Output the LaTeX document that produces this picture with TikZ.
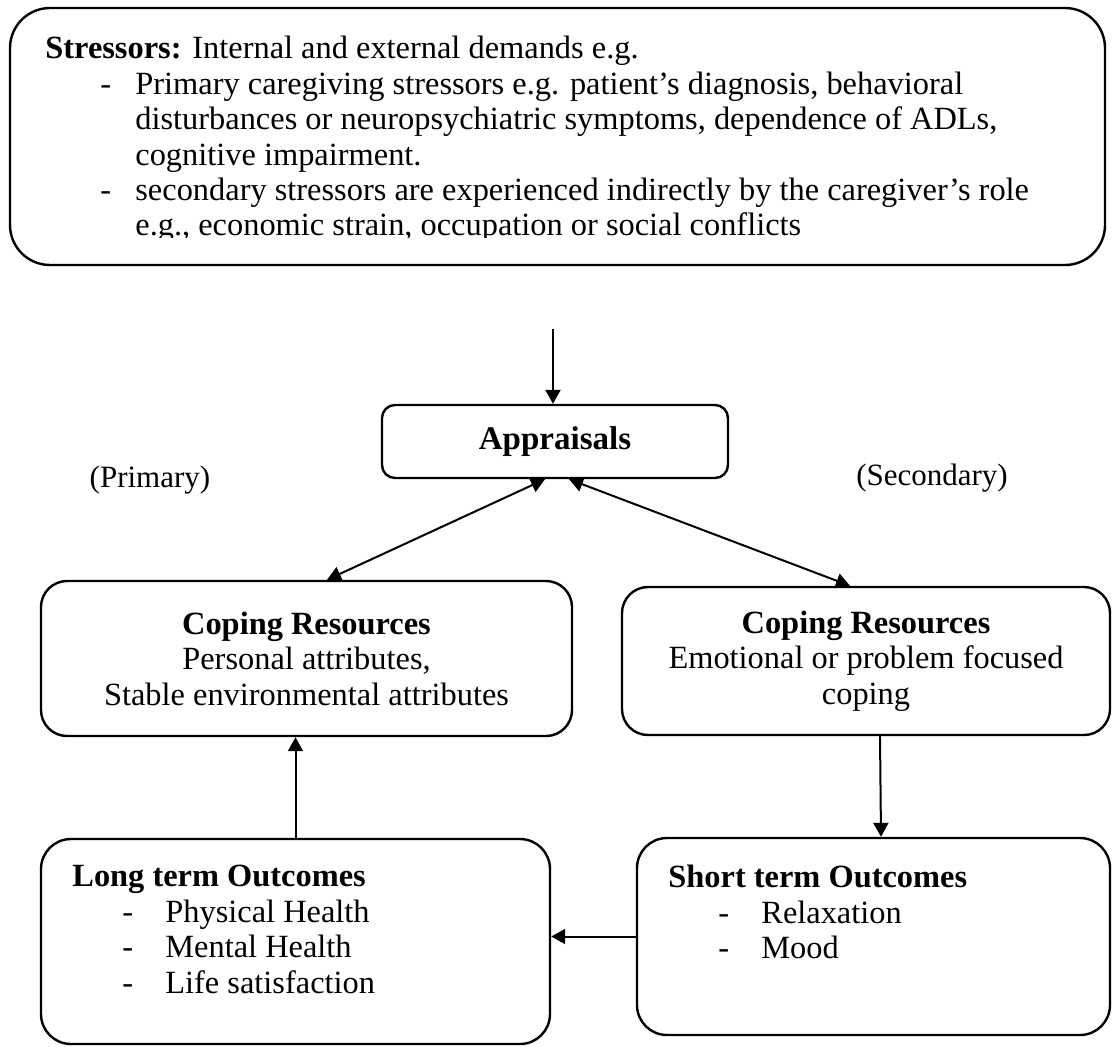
\documentclass[tikz,border=0pt]{standalone}
\usepackage{fontspec}
\setmainfont{Liberation Serif}
\usetikzlibrary{arrows.meta}
\begin{document}
\begin{tikzpicture}[x=0.5pt, y=-0.5pt, >={Triangle[length=7pt,width=7.5pt]}]
  \tikzstyle{box}=[draw, line width=1.2pt, inner sep=0pt]
  \tikzstyle{txt}=[font=\fontsize{16.2}{17.7}\selectfont]
  \tikzstyle{list}=[txt, anchor=north west, align=left, inner sep=0pt]
  \tikzstyle{link}=[line width=1pt]

  \useasboundingbox (0,0) rectangle (1113,1046);

  \node[box, rounded corners=20pt, minimum width=547.5pt, minimum height=128.5pt] (stress) at (557.5,136.5) {};
  \node[box, txt, rounded corners=6.5pt, minimum width=173pt, minimum height=36.5pt, font=\fontsize{16.5}{18}\selectfont\bfseries] (appr) at (555,441.5) {Appraisals};
  \node[box, txt, align=center, rounded corners=13pt, minimum width=265.5pt, minimum height=77.5pt] (cope1) at (306.5,658.5)
    {\textbf{Coping Resources}\\Personal attributes,\\Stable environmental attributes};
  \node[box, txt, align=center, rounded corners=13pt, minimum width=244pt, minimum height=74pt] (cope2) at (866,661)
    {\textbf{Coping Resources}\\Emotional or problem focused\\coping};
  \node[box, rounded corners=15pt, minimum width=254.5pt, minimum height=102.5pt] (long) at (295.5,941.5) {};
  \node[box, rounded corners=15pt, minimum width=236.5pt, minimum height=98.5pt] (short) at (873.5,936.5) {};

  \node[font=\fontsize{15.5}{17}\selectfont] (prim) at (150,480) {(Primary)};
  \node[font=\fontsize{15.5}{17}\selectfont] (sec) at (932,478) {(Secondary)};

  \begin{scope}
    \clip (10,8) rectangle (1105,237);
    \node[list] (stresstxt) at (45,36) {\textbf{Stressors:} Internal and external demands e.g.\\
      \hspace*{27.5pt}\makebox[17.5pt][l]{-}Primary caregiving stressors e.g. patient’s diagnosis, behavioral\\
      \hspace*{45pt}disturbances or neuropsychiatric symptoms, dependence of ADLs,\\
      \hspace*{45pt}cognitive impairment.\\
      \hspace*{27.5pt}\makebox[17.5pt][l]{-}secondary stressors are experienced indirectly by the caregiver’s role\\
      \hspace*{45pt}e.g., economic strain, occupation or social conflicts};
  \end{scope}

  \node[list] (longtxt) at (72,865) {\textbf{Long term Outcomes}\\
    \hspace*{25pt}\makebox[21.5pt][l]{-}Physical Health\\
    \hspace*{25pt}\makebox[21.5pt][l]{-}Mental Health\\
    \hspace*{25pt}\makebox[21.5pt][l]{-}Life satisfaction};
  \node[list] (shorttxt) at (668,865) {\textbf{Short term Outcomes}\\
    \hspace*{25pt}\makebox[21.5pt][l]{-}Relaxation\\
    \hspace*{25pt}\makebox[21.5pt][l]{-}Mood};

  \coordinate (in) at (553,329);
  \draw[->, link] (in) -- (in |- appr.north);
  \draw[<->, link] ([xshift=-5pt]appr.south) -- ([xshift=10.25pt]cope1.north);
  \draw[<->, link] ([xshift=7pt]appr.south) -- ([xshift=-8pt]cope2.north);
  \draw[->, link] ([xshift=7pt]cope2.south) -- ([xshift=3.75pt]short.north);
  \draw[->, link] (short.west) -- (short.west -| long.east);
  \draw[->, link] (long.north) -- (long.north |- cope1.south);
\end{tikzpicture}
\end{document}
